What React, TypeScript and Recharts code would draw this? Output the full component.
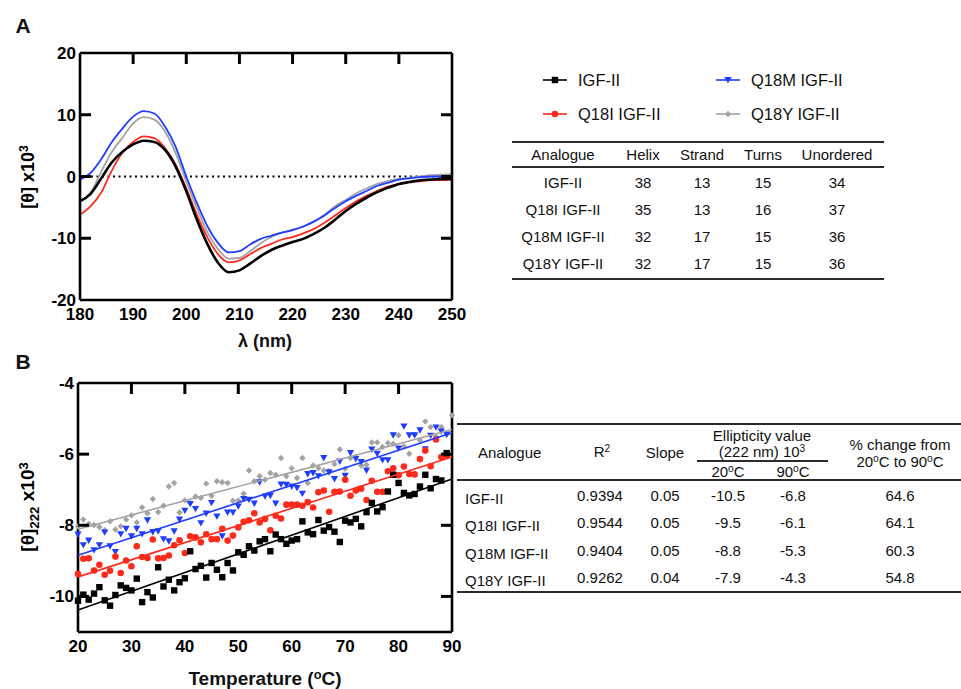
import React from 'react';
import { LineChart, Line, XAxis, YAxis, ReferenceLine, ComposedChart, Scatter } from 'recharts';

const FONT = '"Liberation Sans", Arial, sans-serif';
const BLACK = '#000000';
const RED = '#ff2a1c';
const BLUE = '#1f3dff';
const GRAY = '#a3a3a3';

// ---------- Panel A: CD spectra ----------
const wavelengths = [180, 182, 184, 186, 188, 190, 192, 194, 196, 198, 200, 202, 204, 206, 208, 210, 212, 214, 216, 218, 220, 222, 224, 226, 228, 230, 232, 234, 236, 238, 240, 242, 244, 246, 248, 250];
const igf2CD = [-4.0, -2.8, -0.3, 2.3, 4.0, 5.2, 5.8, 5.6, 4.3, 1.6, -2.4, -7.0, -11.0, -14.0, -15.5, -15.2, -14.1, -12.9, -11.9, -11.2, -10.6, -10.1, -9.3, -8.3, -7.0, -5.6, -4.4, -3.4, -2.5, -1.8, -1.2, -0.9, -0.6, -0.5, -0.4, -0.4];
const q18iCD = [-6.2, -4.8, -2.6, 1.0, 3.9, 5.6, 6.5, 6.2, 4.6, 1.9, -1.9, -6.2, -9.9, -12.6, -13.9, -13.6, -12.6, -11.6, -10.9, -10.2, -9.8, -9.2, -8.5, -7.5, -6.3, -5.1, -4.0, -3.1, -2.3, -1.6, -1.2, -0.9, -0.8, -0.6, -0.6, -0.5];
const q18mCD = [-0.5, 0.6, 2.8, 5.6, 7.8, 9.7, 10.6, 10.2, 8.1, 4.8, 0.0, -4.3, -8.1, -10.8, -12.3, -12.1, -11.0, -10.1, -9.6, -9.1, -8.7, -8.1, -7.3, -6.3, -5.1, -4.0, -3.1, -2.3, -1.5, -1.0, -0.5, -0.3, -0.1, 0.0, 0.0, 0.1];
const q18yCD = [-4.0, -2.6, 0.8, 4.0, 6.3, 8.6, 9.6, 9.2, 7.3, 3.8, -0.8, -5.1, -9.1, -11.8, -13.3, -13.2, -12.1, -10.8, -9.8, -9.1, -8.6, -8.1, -7.3, -6.2, -4.8, -3.8, -2.7, -1.9, -1.2, -0.7, -0.4, -0.2, 0.0, 0.2, 0.3, 0.4];
const cdXTicks = [180, 190, 200, 210, 220, 230, 240, 250];
const cdXInnerTicks = [190, 200, 210, 220, 230, 240];
const cdYTicks = [-20, -10, 0, 10, 20];
const cdYInnerTicks = [-10, 0, 10];

// ---------- Panel B: thermal melt ----------
const temperatures = [20, 21, 22, 23, 24, 25, 26, 27, 28, 29, 30, 31, 32, 33, 34, 35, 36, 37, 38, 39, 40, 41, 42, 43, 44, 45, 46, 47, 48, 49, 50, 51, 52, 53, 54, 55, 56, 57, 58, 59, 60, 61, 62, 63, 64, 65, 66, 67, 68, 69, 70, 71, 72, 73, 74, 75, 76, 77, 78, 79, 80, 81, 82, 83, 84, 85, 86, 87, 88, 89, 90];
const igf2T = [-10.12, -9.95, -10.09, -9.92, -9.74, -10.11, -10.26, -9.96, -9.69, -9.76, -9.83, -9.50, -10.16, -9.88, -10.03, -9.18, -9.72, -9.53, -9.83, -9.60, -9.49, -8.73, -9.23, -9.14, -9.47, -9.06, -9.25, -9.46, -9.06, -9.27, -8.76, -8.83, -8.59, -8.71, -8.45, -8.39, -8.73, -8.26, -8.39, -8.52, -8.43, -8.39, -7.89, -8.20, -8.25, -7.85, -8.15, -8.05, -8.18, -8.47, -7.87, -7.92, -7.82, -8.03, -7.63, -7.37, -7.61, -7.49, -7.05, -6.58, -6.81, -7.09, -7.16, -7.12, -6.91, -6.58, -6.96, -6.70, -6.74, -5.97, null];
const q18iT = [-9.37, -8.94, -8.93, -9.27, -9.11, -9.39, -9.28, -8.88, -9.34, -8.99, -9.15, -8.59, -8.89, -8.92, -8.40, -8.93, -8.92, -8.85, -8.56, -8.42, -8.78, -8.31, -8.34, -8.48, -8.25, -8.39, -8.39, -8.10, -8.43, -8.29, -8.06, -7.90, -7.86, -7.66, -7.92, -7.82, -8.14, -7.73, -7.81, -7.42, -7.42, -7.42, -7.45, -7.35, -7.50, -7.07, -7.02, -7.62, -7.06, -7.05, -6.72, -7.17, -7.02, -6.97, -7.29, -6.75, -7.06, -7.06, -6.48, -6.40, -6.59, -6.35, -6.56, -6.57, -6.14, -5.90, -6.34, -5.59, -6.08, -6.04, null];
const q18mT = [-8.26, -8.56, -8.43, -8.70, -8.56, -8.20, -8.59, -8.75, -8.25, -8.10, -8.31, -8.10, -8.25, -7.86, -8.19, -8.17, -8.39, -8.45, -8.17, -7.84, -7.59, -7.40, -7.54, -7.94, -7.67, -7.37, -7.75, -8.31, -7.64, -7.64, -7.47, -7.26, -7.28, -7.39, -6.79, -7.19, -7.17, -7.39, -6.85, -6.86, -6.91, -6.95, -7.11, -6.56, -6.53, -6.62, -6.11, -6.51, -6.70, -6.21, -6.61, -5.97, -6.14, -6.22, -6.46, -5.87, -5.99, -6.17, -6.17, -5.47, -5.84, -5.22, -5.47, -5.47, -5.33, -5.86, -5.48, -5.25, -5.36, -5.45, null];
const q18yT = [-8.03, -7.84, -7.96, -7.99, -8.05, -8.14, -7.89, -8.12, -8.03, -7.84, -7.72, -7.92, -7.50, -7.66, -7.26, -7.63, -7.45, -6.91, -6.81, -7.64, -7.30, -7.37, -7.19, -7.23, -6.83, -7.17, -6.76, -6.79, -6.81, -7.31, -7.30, -7.11, -6.46, -6.76, -6.62, -6.72, -6.53, -6.58, -6.11, -6.62, -6.40, -6.67, -6.11, -6.81, -6.32, -6.39, -6.46, -6.48, -6.28, -5.87, -6.41, -6.11, -6.08, -6.32, -6.30, -5.67, -5.67, -5.80, -5.69, -5.71, -5.47, -5.78, -5.99, -5.45, -5.61, -5.08, -5.24, -5.50, -5.24, -5.45, -4.91];
const fitT = [20, 90];
const igf2Fit = [-10.38, -6.70];
const q18iFit = [-9.45, -6.08];
const q18mFit = [-8.84, -5.40];
const q18yFit = [-8.11, -5.31];
const tXTicks = [20, 30, 40, 50, 60, 70, 80, 90];
const tXInnerTicks = [30, 40, 50, 60, 70, 80];
const tYTicks = [-10, -8, -6, -4];
const tYInnerTicks = [-10, -8, -6];

// ---------- Tables ----------
const analogues = ['IGF-II', 'Q18I IGF-II', 'Q18M IGF-II', 'Q18Y IGF-II'];
const helix = [38, 35, 32, 32];
const strand = [13, 13, 17, 17];
const turns = [15, 16, 15, 15];
const unordered = [34, 37, 36, 36];
const rSquared = ['0.9394', '0.9544', '0.9404', '0.9262'];
const slopes = ['0.05', '0.05', '0.05', '0.04'];
const ell20 = ['-10.5', '-9.5', '-8.8', '-7.9'];
const ell90 = ['-6.8', '-6.1', '-5.3', '-4.3'];
const pctChange = ['64.6', '64.1', '60.3', '54.8'];

const seriesStyle = [
  { name: 'IGF-II', color: BLACK, kind: 'square' },
  { name: 'Q18I IGF-II', color: RED, kind: 'circle' },
  { name: 'Q18M IGF-II', color: BLUE, kind: 'tri' },
  { name: 'Q18Y IGF-II', color: GRAY, kind: 'diamond' },
];

const cdData = wavelengths.map((w, i) => ({ w, igf2: igf2CD[i], q18i: q18iCD[i], q18m: q18mCD[i], q18y: q18yCD[i] }));
const toPts = (vals: (number | null)[]) =>
  temperatures.map((t, i) => ({ t, v: vals[i] })).filter((p) => p.v !== null);
const toFit = (vals: number[]) => fitT.map((t, i) => ({ t, v: vals[i] }));

function MarkerShape({ kind, color, cx, cy }: { kind: string; color: string; cx: number; cy: number }) {
  if (kind === 'square') return <rect x={cx - 3.2} y={cy - 3.2} width={6.4} height={6.4} fill={color} />;
  if (kind === 'circle') return <circle cx={cx} cy={cy} r={3.3} fill={color} />;
  if (kind === 'tri') return <polygon points={`${cx - 3.6},${cy - 3} ${cx + 3.6},${cy - 3} ${cx},${cy + 3.4}`} fill={color} />;
  return <polygon points={`${cx},${cy - 3.2} ${cx + 3.2},${cy} ${cx},${cy + 3.2} ${cx - 3.2},${cy}`} fill={color} />;
}

const axisLineStyle = { stroke: '#000', strokeWidth: 2.6 };
const tickTextStyle = { fontSize: 17, fontWeight: 700, fill: '#000', fontFamily: FONT };

// Inward frame tick marks (axis decoration) over a plot box
function FrameTicks({ box, xDomain, yDomain, xInner, yInner }: any) {
  const { left, top, width, height } = box;
  const sx = (v: number) => left + ((v - xDomain[0]) / (xDomain[1] - xDomain[0])) * width;
  const sy = (v: number) => top + ((yDomain[1] - v) / (yDomain[1] - yDomain[0])) * height;
  const len = 11;
  return (
    <svg width={left + width + 20} height={top + height + 20} style={{ position: 'absolute', left: 0, top: 0, pointerEvents: 'none', zIndex: 2 }}>
      {xInner.map((v: number) => (
        <line key={'t' + v} x1={sx(v)} x2={sx(v)} y1={top} y2={top + len} stroke="#000" strokeWidth={3} />
      ))}
      {yInner.map((v: number) => (
        <g key={'y' + v}>
          <line x1={left} x2={left + len} y1={sy(v)} y2={sy(v)} stroke="#000" strokeWidth={3} />
          <line x1={left + width - len} x2={left + width} y1={sy(v)} y2={sy(v)} stroke="#000" strokeWidth={3} />
        </g>
      ))}
    </svg>
  );
}

function T({ x, y, children, size = 15, anchor = 'middle', bold = false }: any) {
  const tx = anchor === 'middle' ? '-50%' : anchor === 'end' ? '-100%' : '0';
  return (
    <div
      style={{
        position: 'absolute', left: x, top: y, transform: `translate(${tx}, -50%)`,
        fontSize: size, fontWeight: bold ? 700 : 400, whiteSpace: 'nowrap', lineHeight: 1,
        color: '#111', fontFamily: FONT,
      }}
    >
      {children}
    </div>
  );
}

const Sup = ({ children }: any) => (
  <span style={{ fontSize: '0.68em', position: 'relative', top: '-0.5em' }}>{children}</span>
);
const Sub = ({ children }: any) => (
  <span style={{ fontSize: '0.7em', position: 'relative', top: '0.35em' }}>{children}</span>
);

function Rule({ x, y, w, h = 1.8 }: any) {
  return <div style={{ position: 'absolute', left: x, top: y - h / 2, width: w, height: h, background: '#2a2a2a' }} />;
}

function LegendItem({ x, y, s }: any) {
  return (
    <div style={{ position: 'absolute', left: x, top: y - 8, height: 16 }}>
      <svg width={26} height={16} style={{ position: 'absolute', left: 0, top: 0 }}>
        <line x1={0} x2={24} y1={8} y2={8} stroke={s.color} strokeWidth={1.6} />
        <MarkerShape kind={s.kind} color={s.color} cx={12} cy={8} />
      </svg>
      <div style={{ position: 'absolute', left: 35, top: 8, transform: 'translateY(-50%)', fontSize: 16.5, fontFamily: FONT, whiteSpace: 'nowrap', lineHeight: 1, color: '#111' }}>
        {s.name}
      </div>
    </div>
  );
}

export default function App() {
  const t1Cols = [563, 643, 702, 763, 837];
  const t1Rows = [182, 209, 236, 263];
  const t2Rows = [495, 522, 550, 577];
  return (
    <div style={{ position: 'absolute', left: 0, top: 0, width: 961, height: 689, background: '#fff', fontFamily: FONT, overflow: 'hidden' }}>
      {/* Panel A chart */}
      <div style={{ position: 'absolute', left: 0, top: 0, width: 470, height: 345 }}>
        <LineChart width={470} height={345} data={cdData} margin={{ top: 53, right: 18, left: 40, bottom: 20 }}>
          <XAxis dataKey="w" type="number" domain={[180, 250]} ticks={cdXTicks} interval={0} height={25}
            tickLine={false} tickSize={0} tickMargin={8} axisLine={axisLineStyle} tick={tickTextStyle} />
          <YAxis type="number" domain={[-20, 20]} ticks={cdYTicks} interval={0} width={40}
            tickLine={false} tickSize={0} tickMargin={4} axisLine={axisLineStyle} tick={tickTextStyle} />
          <XAxis xAxisId="top" dataKey="w" orientation="top" mirror height={1} type="number" domain={[180, 250]} allowDataOverflow
            ticks={cdXInnerTicks} interval={0} tick={false} tickLine={false} axisLine={axisLineStyle} />
          <YAxis yAxisId="r" orientation="right" mirror width={1} type="number" domain={[-20, 20]} allowDataOverflow
            ticks={cdYInnerTicks} interval={0} tick={false} tickLine={false} axisLine={axisLineStyle} />
          <Line xAxisId="top" yAxisId="r" dataKey="igf2" stroke="none" strokeWidth={0} dot={false} activeDot={false} isAnimationActive={false} />
          <ReferenceLine y={0} stroke="#000" strokeWidth={2.2} strokeDasharray="2 3.5" />
          <Line type="monotone" dataKey="q18y" stroke={GRAY} strokeWidth={1.8} dot={false} isAnimationActive={false} />
          <Line type="monotone" dataKey="q18m" stroke={BLUE} strokeWidth={1.8} dot={false} isAnimationActive={false} />
          <Line type="monotone" dataKey="q18i" stroke={RED} strokeWidth={1.8} dot={false} isAnimationActive={false} />
          <Line type="monotone" dataKey="igf2" stroke={BLACK} strokeWidth={2.6} dot={false} isAnimationActive={false} />
        </LineChart>
        <FrameTicks box={{ left: 80, top: 53, width: 372, height: 247 }} xDomain={[180, 250]} yDomain={[-20, 20]} xInner={cdXInnerTicks} yInner={cdYInnerTicks} />
      </div>

      {/* Panel B chart */}
      <div style={{ position: 'absolute', left: 0, top: 340, width: 470, height: 349 }}>
        <ComposedChart width={470} height={349} margin={{ top: 43, right: 18, left: 38, bottom: 27 }}>
          <XAxis dataKey="t" type="number" domain={[20, 90]} ticks={tXTicks} interval={0} height={30}
            tickLine={false} tickSize={0} tickMargin={8} axisLine={axisLineStyle} tick={tickTextStyle} />
          <YAxis dataKey="v" type="number" domain={[-11, -4]} ticks={tYTicks} interval={0} width={40}
            tickLine={false} tickSize={0} tickMargin={4} axisLine={axisLineStyle} tick={tickTextStyle} />
          <XAxis xAxisId="top" dataKey="t" orientation="top" mirror height={1} type="number" domain={[20, 90]} allowDataOverflow
            ticks={tXInnerTicks} interval={0} tick={false} tickLine={false} axisLine={axisLineStyle} />
          <YAxis yAxisId="r" dataKey="v" orientation="right" mirror width={1} type="number" domain={[-11, -4]} allowDataOverflow
            ticks={tYInnerTicks} interval={0} tick={false} tickLine={false} axisLine={axisLineStyle} />
          <Scatter xAxisId="top" yAxisId="r" data={toFit(igf2Fit)} isAnimationActive={false} shape={() => <g />} />
          <Scatter data={toPts(q18yT)} isAnimationActive={false} shape={(p: any) => <MarkerShape kind="diamond" color={GRAY} cx={p.cx} cy={p.cy} />} />
          <Scatter data={toPts(q18mT)} isAnimationActive={false} shape={(p: any) => <MarkerShape kind="tri" color={BLUE} cx={p.cx} cy={p.cy} />} />
          <Scatter data={toPts(q18iT)} isAnimationActive={false} shape={(p: any) => <MarkerShape kind="circle" color={RED} cx={p.cx} cy={p.cy} />} />
          <Scatter data={toPts(igf2T)} isAnimationActive={false} shape={(p: any) => <MarkerShape kind="square" color={BLACK} cx={p.cx} cy={p.cy} />} />
          <Scatter data={toFit(q18yFit)} isAnimationActive={false} line={{ stroke: GRAY, strokeWidth: 1.6 }} shape={() => <g />} />
          <Scatter data={toFit(q18mFit)} isAnimationActive={false} line={{ stroke: BLUE, strokeWidth: 1.6 }} shape={() => <g />} />
          <Scatter data={toFit(q18iFit)} isAnimationActive={false} line={{ stroke: RED, strokeWidth: 1.6 }} shape={() => <g />} />
          <Scatter data={toFit(igf2Fit)} isAnimationActive={false} line={{ stroke: BLACK, strokeWidth: 1.6 }} shape={() => <g />} />
        </ComposedChart>
        <FrameTicks box={{ left: 78, top: 43, width: 374, height: 249 }} xDomain={[20, 90]} yDomain={[-11, -4]} xInner={tXInnerTicks} yInner={tYInnerTicks} />
      </div>

      {/* Panel labels and axis titles */}
      <T x={23} y={25} size={21} bold>A</T>
      <T x={23} y={361} size={21} bold>B</T>
      <div style={{ position: 'absolute', left: 28, top: 177, transform: 'translate(-50%, -50%) rotate(-90deg)', fontSize: 18, fontWeight: 700, whiteSpace: 'nowrap', lineHeight: 1, fontFamily: FONT }}>
        [θ] x10<Sup>3</Sup>
      </div>
      <T x={265} y={341} size={18} bold>λ (nm)</T>
      <div style={{ position: 'absolute', left: 27, top: 507, transform: 'translate(-50%, -50%) rotate(-90deg)', fontSize: 19, fontWeight: 700, whiteSpace: 'nowrap', lineHeight: 1, fontFamily: FONT }}>
        [θ]<Sub>222</Sub> x10<Sup>3</Sup>
      </div>
      <T x={265} y={678} size={19} bold>Temperature (<Sup>o</Sup>C)</T>

      {/* Legend */}
      <LegendItem x={543} y={80} s={seriesStyle[0]} />
      <LegendItem x={543} y={114} s={seriesStyle[1]} />
      <LegendItem x={716} y={80} s={seriesStyle[2]} />
      <LegendItem x={716} y={114} s={seriesStyle[3]} />

      {/* Table 1 */}
      <Rule x={512} y={142} w={372} />
      <Rule x={512} y={167} w={372} />
      <Rule x={512} y={279} w={372} />
      {['Analogue', 'Helix', 'Strand', 'Turns', 'Unordered'].map((h, i) => (
        <T key={h} x={t1Cols[i]} y={154}>{h}</T>
      ))}
      {analogues.map((a, r) => (
        <React.Fragment key={a}>
          <T x={t1Cols[0]} y={t1Rows[r]}>{a}</T>
          <T x={t1Cols[1]} y={t1Rows[r]}>{helix[r]}</T>
          <T x={t1Cols[2]} y={t1Rows[r]}>{strand[r]}</T>
          <T x={t1Cols[3]} y={t1Rows[r]}>{turns[r]}</T>
          <T x={t1Cols[4]} y={t1Rows[r]}>{unordered[r]}</T>
        </React.Fragment>
      ))}

      {/* Table 2 */}
      <Rule x={457} y={424} w={504} />
      <Rule x={697} y={461} w={131} h={1.5} />
      <Rule x={457} y={480} w={504} />
      <Rule x={457} y={592} w={504} />
      <T x={478} y={452} anchor="start">Analogue</T>
      <T x={602} y={452}>R<Sup>2</Sup></T>
      <T x={665} y={452}>Slope</T>
      <T x={762} y={435}>Ellipticity value</T>
      <T x={762} y={452}>(222 nm) 10<Sup>3</Sup></T>
      <T x={728} y={472}>20<Sup>o</Sup>C</T>
      <T x={793} y={472}>90<Sup>o</Sup>C</T>
      <T x={900} y={444}>% change from</T>
      <T x={900} y={462}>20<Sup>o</Sup>C to 90<Sup>o</Sup>C</T>
      {analogues.map((a, r) => (
        <React.Fragment key={'t2' + a}>
          <T x={465} y={t2Rows[r] + 3} anchor="start">{a}</T>
          <T x={600} y={t2Rows[r]}>{rSquared[r]}</T>
          <T x={665} y={t2Rows[r]}>{slopes[r]}</T>
          <T x={728} y={t2Rows[r]}>{ell20[r]}</T>
          <T x={793} y={t2Rows[r]}>{ell90[r]}</T>
          <T x={900} y={t2Rows[r]}>{pctChange[r]}</T>
        </React.Fragment>
      ))}
    </div>
  );
}
